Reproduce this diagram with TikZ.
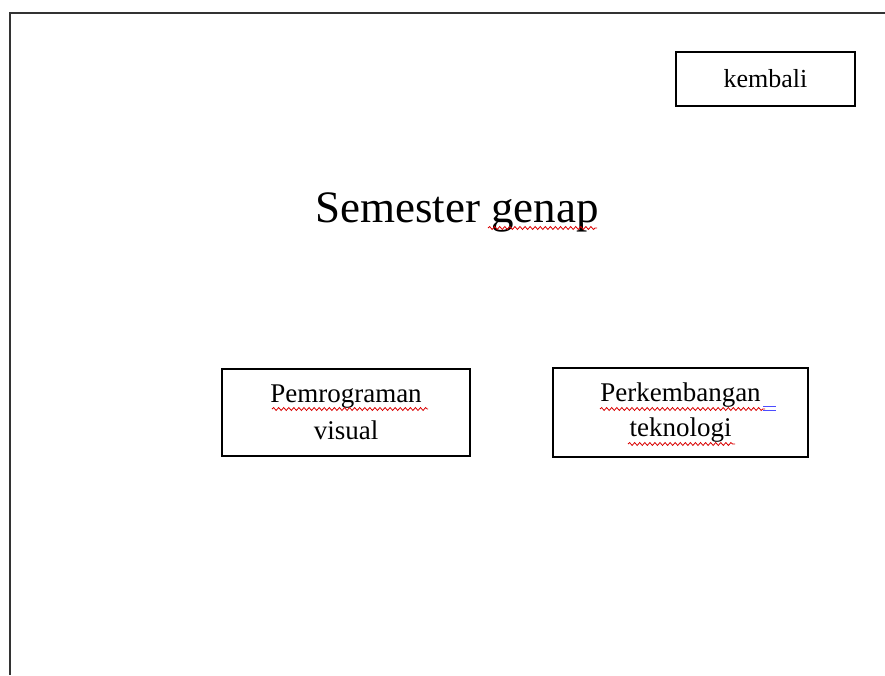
\documentclass[tikz,border=0pt]{standalone}
\usepackage{fontspec}
\setmainfont{Liberation Serif}
\usetikzlibrary{decorations.pathmorphing}

\tikzset{
  menubox/.style={draw, line width=2.1pt, inner sep=0pt, align=center,
    font=\fontsize{20.25}{27.75}\selectfont},
  typo/.style={draw=red!85!black, line width=0.6pt,
    decorate, decoration={snake, segment length=3.8pt, amplitude=1.1pt}}
}

\begin{document}
\begin{tikzpicture}[x=0.75pt, y=-0.75pt]
\useasboundingbox (0, 0) rectangle (885, 675);
\draw[black!80, line width=1.2pt] (885, 13) -- (10, 13) -- (10, 675);

\node[menubox, minimum width=134.25pt, minimum height=40.5pt,
  font=\fontsize{19.5}{24}\selectfont] (kembali) at (765.5, 79) {kembali};

\node[anchor=base west, inner sep=0pt, font=\fontsize{33.75}{40}\selectfont]
  (judul) at (315, 222) {Semester genap};

\node[menubox, minimum width=186pt, minimum height=65.25pt] (visual) at (346, 412.5)
  {Pemrograman\\visual};
\node[menubox, minimum width=191.25pt, minimum height=66.75pt] (tekno) at (680.5, 412.5)
  {\raisebox{-2pt}{Perkembangan}\\teknologi};

% spelling marks
\draw[typo] (488, 228) -- (597, 228);
\draw[typo] (272, 409) -- (428, 409);
\draw[typo] (600, 409) -- (765, 409);
\draw[typo] (628, 444) -- (735, 444);
\draw[blue!70, line width=0.6pt] (763, 406) -- (776, 406) (763, 410) -- (776, 410);

\end{tikzpicture}
\end{document}
